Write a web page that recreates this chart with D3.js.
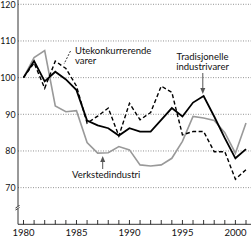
<!doctype html>
<html lang="no">
<head>
  <meta charset="utf-8" />
  <title>Indeks</title>
  <style>
    html, body { margin: 0; padding: 0; background: #fff; }
    svg { display: block; font-family: Lato, "Open Sans", sans-serif; }
    .grid line { stroke: #777; stroke-width: 0.8; stroke-dasharray: 1,1.5; }
    .lbl { font-size: 9.5px; fill: #111; }
    .ylbl { font-size: 8.8px; fill: #111; }
  </style>
</head>
<body>
<svg id="chart" width="251" height="240"></svg>

<script src="https://cdn.jsdelivr.net/npm/d3@7"></script>
<script>

// Data (1980 = 100)
var years = d3.range(1980, 2002);
var tradisjonelle = [100, 104.5, 99, 101.6, 99.5, 96.6, 88.3, 87, 86.2, 84.2, 86.2, 85.3,
  85.3, 88.5, 91.7, 89.4, 93.2, 95, 89.4, 83.5, 78, 80.5];
var utekonkurrerende = [100, 104, 97.1, 104.5, 102.5, 97.7, 87.6, 89.5, 91.7, 84.1, 93, 88.5,
  90.5, 97.7, 96, 84.4, 85.3, 85.3, 79.8, 79.8, 72.3, 74.9];
var verksted = [100, 105.5, 107.4, 92.3, 90.7, 91, 82.3, 79.4, 79.5, 81.2, 80.3, 76.2,
  75.9, 76.2, 78, 82.6, 89.4, 89, 88.3, 85, 79.4, 87.6];
var yTicks = [70, 80, 90, 100, 110, 120];
var xLabels = [1980, 1985, 1990, 1995, 2000];

var svg = d3.select('#chart');
var axisX = 18, axisBottom = 224.3;

var x = d3.scaleLinear().domain([1980, 2001]).range([23.5, 246]);
var y = d3.scaleLinear().domain([60, 120]).range([axisBottom, 4.3]);

// Gridlines
svg.append('g').attr('class', 'grid')
  .selectAll('line')
  .data(yTicks)
  .enter().append('line')
  .attr('x1', axisX).attr('x2', 251)
  .attr('y1', function(d) { return y(d); })
  .attr('y2', function(d) { return y(d); });

// Y labels
svg.selectAll('.ylbl')
  .data(yTicks)
  .enter().append('text')
  .attr('class', 'ylbl')
  .attr('x', 15.5)
  .attr('y', function(d) { return y(d) + 3.3; })
  .attr('text-anchor', 'end')
  .text(function(d) { return d; });

// Axes
svg.append('line')
  .attr('x1', axisX).attr('x2', axisX)
  .attr('y1', 0).attr('y2', axisBottom)
  .attr('stroke', '#000').attr('stroke-width', 0.8);
svg.append('line')
  .attr('x1', axisX).attr('x2', 251)
  .attr('y1', axisBottom).attr('y2', axisBottom)
  .attr('stroke', '#000').attr('stroke-width', 0.8);

// axis break
svg.append('rect').attr('x', 15).attr('y', 206).attr('width', 6).attr('height', 3).attr('fill', '#fff');
svg.append('path').attr('d', 'M15.5,208 L19.5,205.5 M15.5,210 L19.5,207.5')
  .attr('stroke', '#000').attr('stroke-width', 0.8).attr('fill', 'none');

// X ticks
svg.selectAll('.xtick')
  .data(years)
  .enter().append('line')
  .attr('x1', function(d) { return x(d); })
  .attr('x2', function(d) { return x(d); })
  .attr('y1', axisBottom).attr('y2', axisBottom - 4.3)
  .attr('stroke', '#000').attr('stroke-width', 0.8);

svg.selectAll('.xlbl')
  .data(xLabels)
  .enter().append('text')
  .attr('class', 'lbl')
  .attr('x', function(d) { return x(d); })
  .attr('y', 235.5)
  .attr('text-anchor', 'middle')
  .text(function(d) { return d; });

// Lines
var line = d3.line()
  .x(function(d, i) { return x(years[i]); })
  .y(function(d) { return y(d); });

svg.append('path').datum(verksted)
  .attr('d', line).attr('fill', 'none')
  .attr('stroke', '#999').attr('stroke-width', 1.6);
svg.append('path').datum(utekonkurrerende)
  .attr('d', line).attr('fill', 'none')
  .attr('stroke', '#000').attr('stroke-width', 1.4)
  .attr('stroke-dasharray', '4,2.5');
svg.append('path').datum(tradisjonelle)
  .attr('d', line).attr('fill', 'none')
  .attr('stroke', '#000').attr('stroke-width', 1.8);

// Annotations
svg.append('text').attr('class', 'lbl').attr('x', 75).attr('y', 54).text('Utekonkurrerende');
svg.append('text').attr('class', 'lbl').attr('x', 75).attr('y', 64).text('varer');
svg.append('path').attr('d', 'M70.5,51 L64,64')
  .attr('stroke', '#000').attr('stroke-width', 0.8).attr('stroke-dasharray', '2,1.5');

svg.append('text').attr('class', 'lbl').attr('x', 202.5).attr('y', 60).attr('text-anchor', 'middle').text('Tradisjonelle');
svg.append('text').attr('class', 'lbl').attr('x', 202.5).attr('y', 70).attr('text-anchor', 'middle').text('industrivarer');
svg.append('line').attr('x1', 202.8).attr('x2', 202.8).attr('y1', 73).attr('y2', 90)
  .attr('stroke', '#555').attr('stroke-width', 1);
svg.append('path').attr('d', 'M200.3,88 L205.3,88 L202.8,94 Z').attr('fill', '#555');

svg.append('text').attr('class', 'lbl').attr('x', 72).attr('y', 178).text('Verkstedindustri');
svg.append('line').attr('x1', 102.7).attr('x2', 102.7).attr('y1', 169).attr('y2', 161)
  .attr('stroke', '#555').attr('stroke-width', 1);
svg.append('path').attr('d', 'M100.2,162 L105.2,162 L102.7,156 Z').attr('fill', '#555');

</script>
</body>
</html>
